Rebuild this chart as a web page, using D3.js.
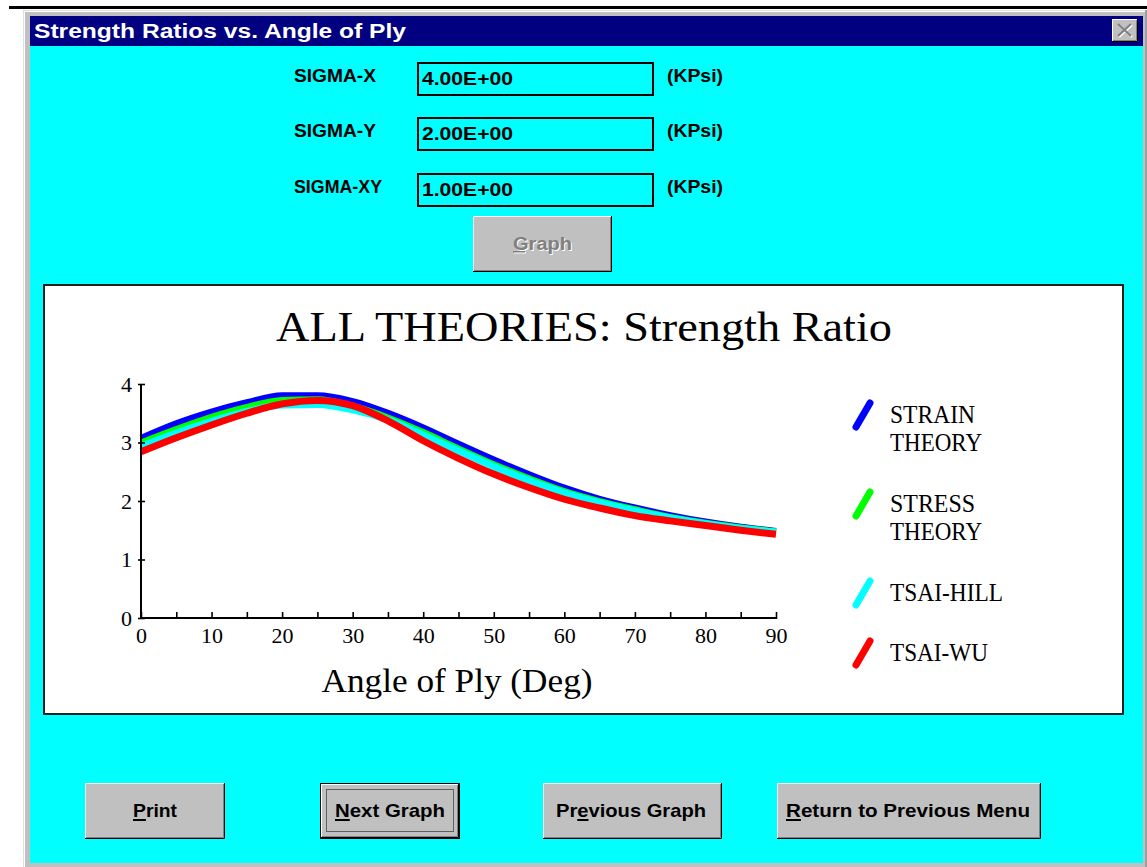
<!DOCTYPE html>
<html>
<head>
<meta charset="utf-8">
<script src="https://cdn.jsdelivr.net/npm/d3@7"></script>
<style>
  html, body { margin: 0; padding: 0; background: #ffffff; }
  svg { display: block; }
</style>
</head>
<body>
<div id="chart"></div>
<script>
// ---------------- DATA ----------------
const angles        = [0, 5, 10, 15, 20, 25, 30, 35, 40, 45, 50, 55, 60, 65, 70, 75, 80, 85, 90];
const strainTheory  = [3.07, 3.32, 3.52, 3.68, 3.80, 3.80, 3.70, 3.50, 3.25, 2.97, 2.70, 2.45, 2.22, 2.03, 1.88, 1.75, 1.64, 1.55, 1.48];
const stressTheory  = [2.99, 3.22, 3.43, 3.60, 3.72, 3.73, 3.62, 3.42, 3.17, 2.89, 2.62, 2.38, 2.16, 1.99, 1.85, 1.72, 1.62, 1.54, 1.47];
const tsaiHill      = [2.93, 3.16, 3.36, 3.53, 3.64, 3.65, 3.56, 3.39, 3.13, 2.86, 2.59, 2.35, 2.14, 1.97, 1.83, 1.71, 1.61, 1.53, 1.47];
const tsaiWu        = [2.84, 3.08, 3.30, 3.50, 3.66, 3.72, 3.63, 3.37, 3.03, 2.73, 2.46, 2.23, 2.03, 1.88, 1.75, 1.66, 1.58, 1.50, 1.43];
const seriesLabels  = [["STRAIN", "THEORY"], ["STRESS", "THEORY"], ["TSAI-HILL"], ["TSAI-WU"]];
const seriesColors  = ["#0000ff", "#00ff00", "#00ffff", "#ff0000"];
const xTickValues   = [0, 5, 10, 15, 20, 25, 30, 35, 40, 45, 50, 55, 60, 65, 70, 75, 80, 85, 90];
const yTickValues   = [0, 1, 2, 3, 4];
const chartTitle    = "ALL THEORIES: Strength Ratio";
const xAxisTitle    = "Angle of Ply (Deg)";
const windowTitle   = "Strength Ratios vs. Angle of Ply";
const inputLabels   = ["SIGMA-X", "SIGMA-Y", "SIGMA-XY"];
const inputValues   = ["4.00E+00", "2.00E+00", "1.00E+00"];
const inputUnits    = ["(KPsi)", "(KPsi)", "(KPsi)"];
const buttonLabels  = ["Print", "Next Graph", "Previous Graph", "Return to Previous Menu"];
const buttonMnemonic = [0, 0, 2, 0];

const seriesValues = [strainTheory, stressTheory, tsaiHill, tsaiWu];

// ---------------- SETUP ----------------
const W = 1147, H = 867;
const svg = d3.select("#chart").append("svg").attr("width", W).attr("height", H);
const UI = "'Liberation Sans', Arial, sans-serif";
const SERIF = "'Liberation Serif', 'Times New Roman', serif";

function txt(g, x, y, s, o = {}) {
  const t = g.append("text").attr("x", x).attr("y", y).text(s)
    .attr("font-family", o.family || UI)
    .attr("font-size", o.size || 16)
    .attr("font-weight", o.weight || "normal")
    .attr("fill", o.fill || "#000")
    .attr("text-anchor", o.anchor || "start");
  if (o.len) t.attr("textLength", o.len).attr("lengthAdjust", "spacingAndGlyphs");
  return t;
}

// background line at top
svg.append("rect").attr("x", 9).attr("y", 6).attr("width", W - 9).attr("height", 3).attr("fill", "#000");

// window frame
svg.append("rect").attr("x", 23).attr("y", 10).attr("width", W - 23).attr("height", H - 10).attr("fill", "#c0c0c0");
svg.append("rect").attr("x", 23).attr("y", 10).attr("width", 1).attr("height", H - 10).attr("fill", "#dfdfdf");
svg.append("rect").attr("x", 24).attr("y", 11).attr("width", 1).attr("height", H - 11).attr("fill", "#ffffff");
svg.append("rect").attr("x", 23).attr("y", 10).attr("width", W - 23).attr("height", 1).attr("fill", "#dfdfdf");
svg.append("rect").attr("x", 24).attr("y", 11).attr("width", W - 24).attr("height", 1).attr("fill", "#ffffff");
svg.append("rect").attr("x", W - 2).attr("y", 10).attr("width", 2).attr("height", H - 10).attr("fill", "#a0a0a0");

// title bar
svg.append("rect").attr("x", 30).attr("y", 16).attr("width", 1113).attr("height", 30).attr("fill", "#000080");
txt(svg, 34, 38, windowTitle, { size: 20, weight: "bold", fill: "#fff", len: 372 });

// close button
function bevel(g, x, y, w, h) {
  g.append("rect").attr("x", x).attr("y", y).attr("width", w).attr("height", h).attr("fill", "#c0c0c0");
  g.append("path").attr("d", `M${x + 0.5},${y + h - 1} V${y + 0.5} H${x + w - 1}`).attr("stroke", "#fff").attr("fill", "none");
  g.append("path").attr("d", `M${x},${y + h - 0.5} H${x + w - 0.5} V${y}`).attr("stroke", "#000").attr("fill", "none");
  g.append("path").attr("d", `M${x + 1},${y + h - 1.5} H${x + w - 1.5} V${y + 1}`).attr("stroke", "#808080").attr("fill", "none");
}
bevel(svg, 1112, 19, 26, 23);
[[1, "#fff"], [0, "#808080"]].forEach(([o, c]) => {
  svg.append("path").attr("d", `M${1118 + o},${24 + o} L${1131 + o},${36 + o} M${1131 + o},${24 + o} L${1118 + o},${36 + o}`)
    .attr("stroke", c).attr("stroke-width", 2.2).attr("fill", "none");
});

// client area
svg.append("rect").attr("x", 30).attr("y", 46).attr("width", 1113).attr("height", 817).attr("fill", "#00ffff");

// inputs
const rowTop = [63, 118, 174];
inputLabels.forEach((lab, i) => {
  const top = rowTop[i];
  txt(svg, 294, top + 19, lab, { size: 19, weight: "bold", len: lab.length === 8 ? 88 : 82 });
  svg.append("rect").attr("x", 418).attr("y", top).attr("width", 235).attr("height", 32)
    .attr("fill", "#00ffff").attr("stroke", "#000").attr("stroke-width", 2);
  txt(svg, 422, top + 22, inputValues[i], { size: 19, weight: "bold", len: 91 });
  txt(svg, 667, top + 19, inputUnits[i], { size: 19, weight: "bold", len: 56 });
});

// Graph button (disabled)
bevel(svg, 473, 216, 139, 56);
txt(svg, 514, 251, "Graph", { size: 19, weight: "bold", fill: "#fff", len: 59 });
const gt = txt(svg, 513, 250, "Graph", { size: 19, weight: "bold", fill: "#808080", len: 59 });
svg.append("rect").attr("x", 514).attr("y", 252).attr("width", 12).attr("height", 1.5).attr("fill", "#fff");
svg.append("rect").attr("x", 513).attr("y", 251).attr("width", 12).attr("height", 1.5).attr("fill", "#808080");

// ---------------- CHART PANEL ----------------
svg.append("rect").attr("x", 44).attr("y", 285).attr("width", 1079).attr("height", 429)
  .attr("fill", "#fff").attr("stroke", "#202020").attr("stroke-width", 2);

txt(svg, 584, 341, chartTitle, { family: SERIF, size: 42, anchor: "middle", len: 616 });
txt(svg, 457, 692, xAxisTitle, { family: SERIF, size: 33, anchor: "middle", len: 271 });

const x = d3.scaleLinear().domain([0, 90]).range([141, 776]);
const y = d3.scaleLinear().domain([0, 4]).range([618, 384]);

const plot = svg.append("g");

// series
const line = d3.line().x((d, i) => x(angles[i])).y(d => y(d)).curve(d3.curveMonotoneX);
seriesValues.forEach((vals, k) => {
  plot.append("path").datum(vals).attr("d", line)
    .attr("fill", "none").attr("stroke", seriesColors[k])
    .attr("stroke-width", 7).attr("stroke-linejoin", "round").attr("stroke-linecap", "butt");
});

// axes
const xAxis = d3.axisBottom(x).tickValues(xTickValues)
  .tickFormat(d => (d % 10 === 0 ? d : "")).tickSizeInner(-6).tickSizeOuter(0).tickPadding(9);
const gx = plot.append("g").attr("transform", `translate(0,${y(0)})`).call(xAxis);
gx.select(".domain").attr("stroke-width", 2).attr("d", `M${x(0)},0H${x(90)}`);
gx.selectAll(".tick line").attr("stroke-width", 1.6).attr("y1", 1);
gx.selectAll(".tick text").attr("font-family", SERIF).attr("font-size", 22).attr("fill", "#000");

const yAxis = d3.axisLeft(y).tickValues(yTickValues).tickFormat(d3.format("d"))
  .tickSizeInner(-4).tickSizeOuter(0).tickPadding(9);
const gy = plot.append("g").attr("transform", `translate(${x(0)},0)`).call(yAxis);
gy.select(".domain").attr("stroke-width", 2).attr("d", `M0,${y(0)}V${y(4)}`);
gy.selectAll(".tick line").attr("stroke-width", 1.6).attr("x1", -3);
gy.selectAll(".tick text").attr("font-family", SERIF).attr("font-size", 22).attr("fill", "#000");

// legend
const legendLens = [[85, 92], [85, 92], [113], [98]];
let ly = 400;
seriesLabels.forEach((lines, k) => {
  plot.append("line").attr("x1", 856).attr("y1", ly + 27).attr("x2", 870).attr("y2", ly + 3)
    .attr("stroke", seriesColors[k]).attr("stroke-width", 7).attr("stroke-linecap", "round");
  lines.forEach((s, j) => {
    txt(plot, 890, ly + 23 + j * 27.5, s, { family: SERIF, size: 25, len: legendLens[k][j] });
  });
  ly += 60 + 29 * (lines.length - 1);
});

// ---------------- BOTTOM BUTTONS ----------------
const btns = [
  { x: 85, w: 140, lx: 133, len: 44 },
  { x: 320, w: 140, lx: 335, len: 110, def: true },
  { x: 543, w: 179, lx: 556, len: 150 },
  { x: 777, w: 264, lx: 786, len: 244 }
];
buttonLabels.forEach((lab, i) => {
  const b = btns[i];
  const top = 783, h = 56;
  if (b.def) {
    svg.append("rect").attr("x", b.x).attr("y", top).attr("width", b.w).attr("height", h).attr("fill", "#000");
    bevel(svg, b.x + 1, top + 1, b.w - 2, h - 2);
    svg.append("rect").attr("x", b.x + 6.5).attr("y", top + 6.5).attr("width", b.w - 13).attr("height", h - 14)
      .attr("fill", "none").attr("stroke", "#000").attr("stroke-dasharray", "1,1");
  } else {
    bevel(svg, b.x, top, b.w, h);
  }
  const t = txt(svg, b.lx, 817, lab, { size: 19, weight: "bold", len: b.len });
  const n = t.node();
  const ci = buttonMnemonic[i];
  const sx = n.getStartPositionOfChar(ci).x, ex = n.getEndPositionOfChar(ci).x;
  svg.append("rect").attr("x", sx).attr("y", 819).attr("width", ex - sx).attr("height", 2).attr("fill", "#000");
});
</script>
</body>
</html>
